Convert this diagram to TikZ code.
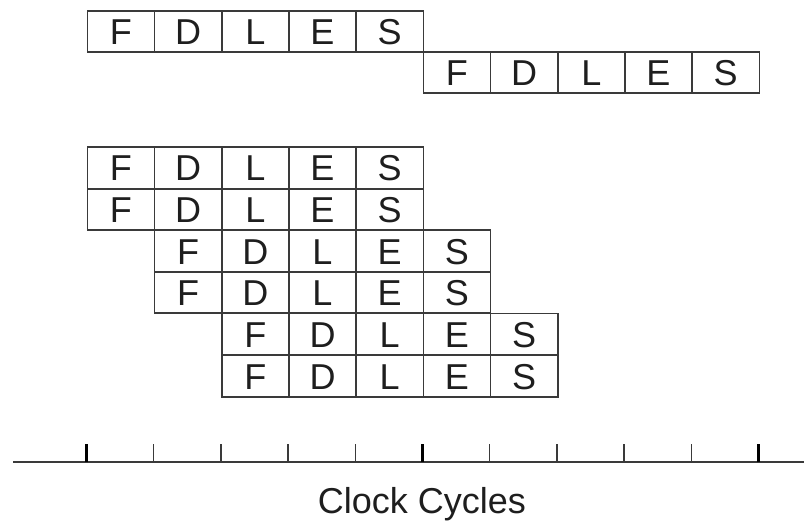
\documentclass[tikz,border=0pt]{standalone}
\usepackage{fontspec}
\setmainfont{Liberation Sans}
\definecolor{linegray}{HTML}{3A3A3A}
\definecolor{txt}{HTML}{1E1E1E}
\begin{document}
\begin{tikzpicture}[x=1pt,y=-1pt,
  cell/.style={draw=linegray, line width=1.6pt, minimum width=67.2pt, minimum height=41.4pt,
    inner sep=0pt, anchor=north west, text=txt, text height=26pt, text depth=0pt,
    font=\fontsize{36}{40}\selectfont},
  axisline/.style={draw=linegray, line width=2pt},
  tickthin/.style={draw=linegray, line width=1.4pt},
  tickthick/.style={draw=black, line width=2.6pt}]
\useasboundingbox (0,0) rectangle (804,524);
% pipeline rows: name / start column / top y
\foreach \rn/\sc/\ty in {a/0/10, b/5/51, c/0/146.5, d/0/188, e/1/229.5, f/1/271, g/2/312.5, h/2/354.5}{
  \foreach \L [count=\k from 0] in {F,D,L,E,S}{
    \pgfmathsetmacro{\xx}{86.5+67.2*(\sc+\k)}
    \node[cell] (\rn\k) at (\xx,\ty) {\L};
  }
}
% axis
\coordinate (axL) at (13,462);
\coordinate (axR) at (804,462);
\draw[axisline] (axL) -- (axR);
\foreach \i in {0,...,10}{
  \pgfmathsetmacro{\tx}{86.5+67.2*\i}
  \coordinate (t\i) at (\tx,462);
  \coordinate (u\i) at (\tx,444);
}
\foreach \i in {1,2,3,4,6,7,8,9}{
  \draw[tickthin] (t\i) -- (u\i);
}
\foreach \i in {0,5,10}{
  \draw[tickthick] (t\i) -- (u\i);
}
\node[text=txt, font=\fontsize{36}{40}\selectfont, anchor=base] (lbl) at (422,513) {Clock Cycles};
\end{tikzpicture}
\end{document}
